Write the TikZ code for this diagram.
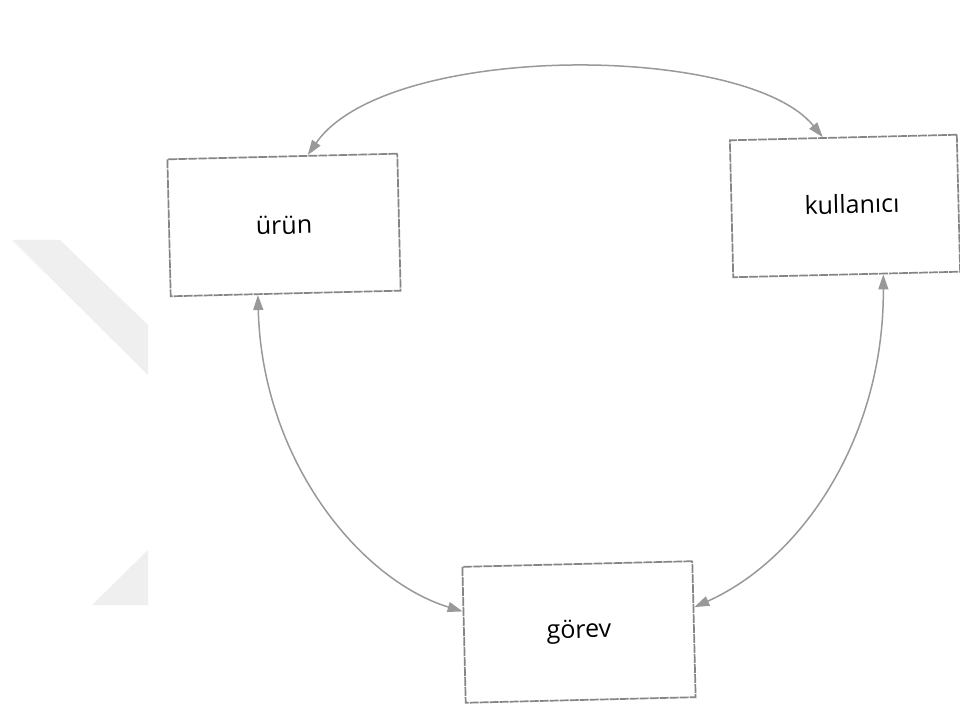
\documentclass[tikz,border=0pt]{standalone}
\usepackage{fontspec}
\setmainfont{Open Sans}
\usetikzlibrary{arrows.meta,calc}
\definecolor{boxline}{HTML}{858585}
\definecolor{arrowline}{HTML}{999999}
\definecolor{wmgray}{HTML}{EFEFEF}
\begin{document}
\begin{tikzpicture}[x=1pt,y=-1pt,
  entity/.style={draw=boxline, line width=1.7pt, dash pattern=on 9pt off 1pt,
    rectangle, minimum width=230pt, minimum height=137pt, inner sep=0pt,
    rotate=1.4, font=\fontsize{25}{30}\selectfont, text=black},
  link/.style={draw=arrowline, line width=1.5pt,
    {Triangle[length=15pt,width=10pt]}-{Triangle[length=15pt,width=10pt]}}
]
% page
\fill[white] (0,0) rectangle (960,708);
\useasboundingbox (0,0) rectangle (960,708);

% faint background mark
\fill[wmgray] (12,240) -- (60,240) -- (148,325) -- (148,375) -- cycle;
\fill[wmgray] (148,550) -- (148,605) -- (92,605) -- cycle;

% entities
\node[entity] (urun) at (284,225) {ürün};
\node[entity, minimum width=227pt] (kul) at (845,206) {\raisebox{4pt}{\hspace{14pt}kullanıcı}};
\node[entity, minimum height=136pt] (gorev) at (579,632) {görev};

% attachment points on the box edges
\coordinate (uT) at ($(urun.north west)!0.61!(urun.north east)$);
\coordinate (uB) at ($(urun.south west)!0.38!(urun.south east)$);
\coordinate (kT) at ($(kul.north west)!0.41!(kul.north east)$);
\coordinate (kB) at ($(kul.south west)!0.66!(kul.south east)$);
\coordinate (gL) at ($(gorev.north west)!0.33!(gorev.south west)$);
\coordinate (gR) at ($(gorev.north east)!0.34!(gorev.south east)$);

% relations
\draw[link] (uT) .. controls (386,42) and (745,42) .. (kT);
\draw[link] (uB) .. controls (262,460) and (360,580) .. (gL);
\draw[link] (kB) .. controls (884,440) and (800,560) .. (gR);
\end{tikzpicture}
\end{document}
